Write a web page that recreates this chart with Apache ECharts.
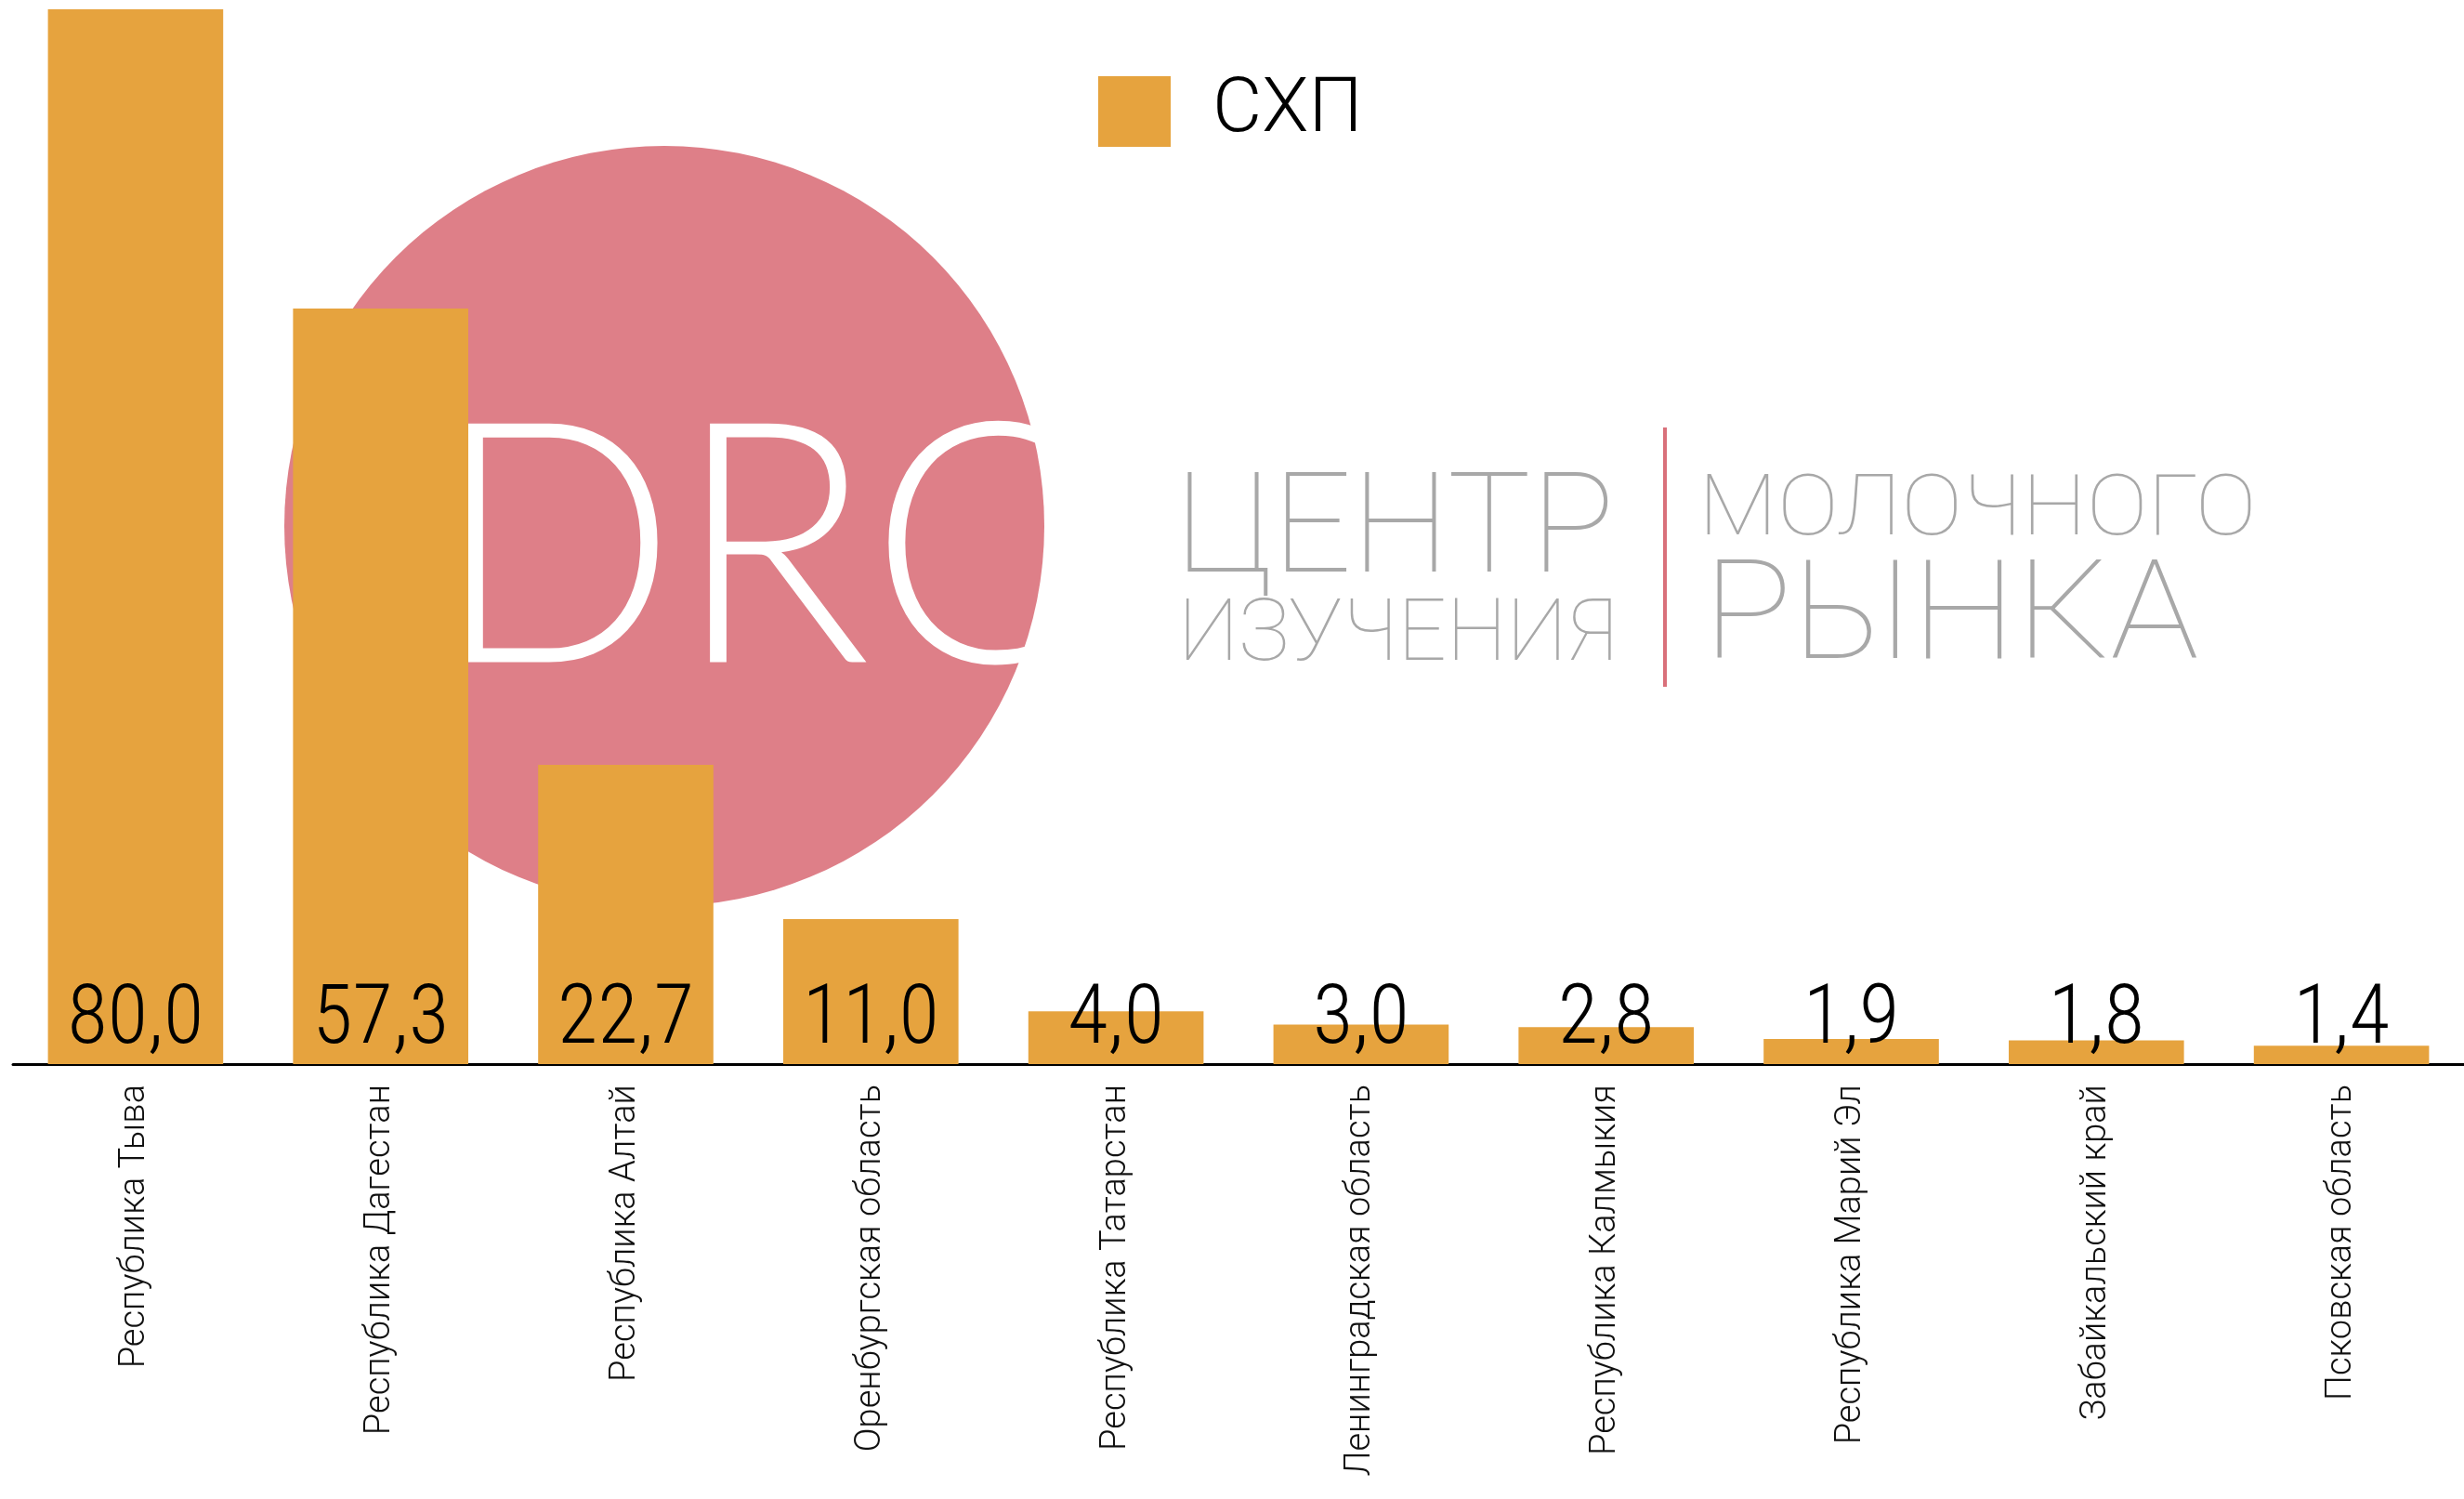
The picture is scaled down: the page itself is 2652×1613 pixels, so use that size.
<!DOCTYPE html>
<html>
<head>
<meta charset="utf-8">
<style>
	html, body { margin: 0; padding: 0; background: #fff; }
	#chart { width: 2652px; height: 1613px; }
</style>
<script src="https://cdn.jsdelivr.net/npm/echarts@6/dist/echarts.min.js"></script>
</head>
<body>
<div id="chart"></div>
<script>
// регионы
var regions = ['Республика Тыва', 'Республика Дагестан', 'Республика Алтай', 'Оренбургская область',
	'Республика Татарстан', 'Ленинградская область', 'Республика Калмыкия', 'Республика Марий Эл',
	'Забайкальский край', 'Псковская область'];
// значения СХП
var schpValues = [80.0, 57.3, 22.7, 11.0, 4.0, 3.0, 2.8, 1.9, 1.8, 1.4];
var seriesName = 'СХП';

var thinFont = "Roboto, 'Liberation Sans', sans-serif";
var narrowFont = "'Roboto Condensed', Roboto, 'Liberation Sans Narrow', sans-serif";

var myChart = echarts.init(document.getElementById('chart'));

var option = {
	backgroundColor: '#ffffff',
	animation: false,
	grid: {
		left: 14,
		right: -6,
		top: 10,
		bottom: 468,
		containLabel: false
	},
	legend: {
		data: [seriesName],
		left: 1177,
		top: 74,
		icon: 'rect',
		itemWidth: 78,
		itemHeight: 76,
		textStyle: {
			fontSize: 82,
			fontFamily: thinFont,
			fontWeight: 300,
			color: '#000',
			padding: [0, 0, 0, 40]
		}
	},
	// логотип на фоне
	graphic: [
		{
			type: 'circle',
			z: -10,
			shape: { cx: 715, cy: 566, r: 409 },
			style: { fill: '#DE7F88' }
		},
		{
			type: 'text',
			z: -9,
			x: 466,
			y: 414,
			scaleX: 0.95,
			style: {
				text: 'DRC',
				fontSize: 363,
				fontFamily: "Lato, Inter, sans-serif",
				fontWeight: 300,
				fill: '#ffffff',
				textVerticalAlign: 'top'
			}
		},
		{
			type: 'text',
			z: -9,
			x: 1265,
			y: 502,
			style: { text: 'ЦЕНТР', fontSize: 150, fontFamily: thinFont, fontWeight: 100, fill: '#a8a8a8' }
		},
		{
			type: 'text',
			z: -9,
			x: 1268,
			y: 641,
			style: { text: 'ИЗУЧЕНИЯ', fontSize: 92, fontFamily: thinFont, fontWeight: 100, fill: '#a8a8a8' }
		},
		{
			type: 'line',
			z: -9,
			shape: { x1: 1792, y1: 460, x2: 1792, y2: 739 },
			style: { stroke: '#D9707A', lineWidth: 4 }
		},
		{
			type: 'text',
			z: -9,
			x: 1828,
			y: 507,
			scaleX: 1.1,
			style: { text: 'МОЛОЧНОГО', fontSize: 90, fontFamily: thinFont, fontWeight: 100, fill: '#a8a8a8' }
		},
		{
			type: 'text',
			z: -9,
			x: 1833,
			y: 597,
			scaleX: 1.08,
			style: { text: 'РЫНКА', fontSize: 148, fontFamily: thinFont, fontWeight: 100, fill: '#a8a8a8' }
		}
	],
	xAxis: {
		type: 'category',
		data: regions,
		axisLine: { show: true, lineStyle: { color: '#000', width: 3 } },
		axisTick: { show: false },
		axisLabel: {
			rotate: 90,
			interval: 0,
			margin: 22,
			fontSize: 38,
			fontFamily: thinFont,
			fontWeight: 300,
			color: '#111'
		}
	},
	yAxis: {
		type: 'value',
		min: 0,
		max: 80,
		show: false,
		splitLine: { show: false }
	},
	series: [{
		name: seriesName,
		type: 'bar',
		data: schpValues,
		barCategoryGap: '28.5%',
		itemStyle: { color: '#E6A33E' },
		label: {
			show: true,
			position: 'insideBottom',
			distance: 1,
			fontSize: 89,
			fontFamily: narrowFont,
			fontWeight: 300,
			color: '#000',
			formatter: function (params) {
				return params.value.toFixed(1).replace('.', ',');
			}
		}
	}]
};
myChart.setOption(option);
</script>
</body>
</html>
